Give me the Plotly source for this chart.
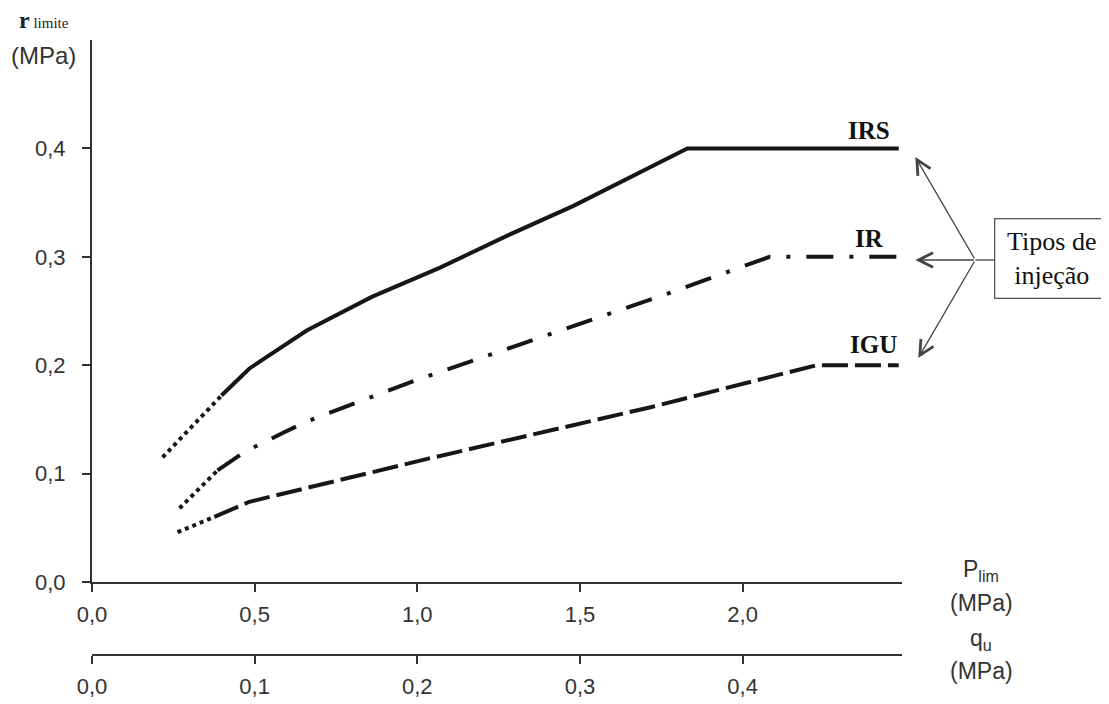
import plotly.graph_objects as go

# ---- data ----
irs_dot_x = [0.217, 0.398]
irs_dot_y = [0.115, 0.172]
irs_x = [0.398, 0.484, 0.66, 0.86, 1.07, 1.28, 1.48, 1.68, 1.83, 2.48]
irs_y = [0.172, 0.197, 0.232, 0.263, 0.290, 0.320, 0.347, 0.377, 0.400, 0.400]

ir_dot_x = [0.269, 0.386]
ir_dot_y = [0.068, 0.103]
ir_x = [0.386, 0.469, 0.583, 0.66, 0.976, 1.443, 1.76, 2.083, 2.48]
ir_y = [0.103, 0.120, 0.137, 0.148, 0.184, 0.232, 0.265, 0.300, 0.300]

igu_dot_x = [0.263, 0.376]
igu_dot_y = [0.046, 0.060]
igu_x = [0.376, 0.484, 1.037, 1.714, 2.227, 2.48]
igu_y = [0.060, 0.074, 0.114, 0.161, 0.200, 0.200]

series_labels = ["IRS", "IR", "IGU"]
p_ticks = [0.0, 0.5, 1.0, 1.5, 2.0]
q_ticks = [0.0, 0.1, 0.2, 0.3, 0.4]
r_ticks = [0.0, 0.1, 0.2, 0.3, 0.4]
p_max = 2.49
q_max = p_max / 5.0
r_max = 0.5

LINE = "#161616"
AXC = "#333333"
SANS = "Liberation Sans, Arial, sans-serif"
SERIF = "Liberation Serif, Times New Roman, serif"
LW = 4

fig = go.Figure()

def add(x, y, dash):
    fig.add_trace(go.Scatter(x=x, y=y, mode="lines", showlegend=False,
                             hoverinfo="skip",
                             line=dict(color=LINE, width=LW, dash=dash)))

add(irs_dot_x, irs_dot_y, "4px,4px")
add(irs_x, irs_y, "solid")
add(ir_dot_x, ir_dot_y, "4px,4px")
add(ir_x, ir_y, "27px,16px,4px,16px")
add(igu_dot_x, igu_dot_y, "4px,4px")
add(igu_x, igu_y, "26px,7px")

# invisible trace so the q_u axis is drawn
fig.add_trace(go.Scatter(x=[0], y=[0], xaxis="x2", yaxis="y", mode="markers",
                         marker=dict(opacity=0), showlegend=False, hoverinfo="skip"))

tickfont = dict(family=SANS, size=22, color=AXC)

# the page body adds an 8px margin, so the figure is made 8px smaller
fig.update_layout(
    width=1101, height=696, autosize=False,
    margin=dict(l=84, r=207, t=32, b=49),
    paper_bgcolor="white", plot_bgcolor="white",
    separators=",.",
    xaxis=dict(range=[0, p_max], tickvals=p_ticks, tickformat=".1f",
               showline=True, linewidth=2, linecolor=AXC,
               ticks="outside", ticklen=8, tickwidth=1.5, tickcolor=AXC,
               showgrid=False, zeroline=False, tickfont=tickfont,
               anchor="y", ticklabelstandoff=4, automargin=False),
    xaxis2=dict(range=[0, q_max], tickvals=q_ticks, tickformat=".1f",
                overlaying="x", anchor="free", position=0, side="bottom",
                showline=True, linewidth=2, linecolor=AXC,
                ticks="outside", ticklen=8, tickwidth=1.5, tickcolor=AXC,
                showgrid=False, zeroline=False, tickfont=tickfont,
                ticklabelstandoff=4, automargin=False),
    yaxis=dict(range=[0, r_max], domain=[0.1187, 1], tickvals=r_ticks,
               tickformat=".1f",
               showline=True, linewidth=2, linecolor=AXC,
               ticks="outside", ticklen=8, tickwidth=1.5, tickcolor=AXC,
               showgrid=False, zeroline=False, tickfont=tickfont,
               ticklabelstandoff=12, automargin=False),
)

ann = []
# series labels (data coordinates)
lab_font = dict(family=SERIF, size=25, color="#111111")
for txt, lx, ly in zip(series_labels, [2.458, 2.442, 2.482], [0.4166, 0.317, 0.219]):
    ann.append(dict(text="<b>%s</b>" % txt, x=lx, y=ly, xref="x", yref="y",
                    xanchor="right", yanchor="middle", showarrow=False, font=lab_font))

# axis titles
ann.append(dict(text="<span style='font-size:24px'><b>r</b></span> limite",
                x=-0.092, y=1.033, xref="paper", yref="paper", xanchor="left",
                yanchor="middle", showarrow=False,
                font=dict(family=SERIF, size=15, color="#222222")))
ann.append(dict(text="(MPa)", x=-0.102, y=0.9756, xref="paper", yref="paper",
                xanchor="left", yanchor="middle", showarrow=False,
                font=dict(family=SANS, size=24, color=AXC)))
side_font = dict(family=SANS, size=23, color=AXC)
for txt, yy in [("P<sub>lim</sub>", 0.137), ("(MPa)", 0.0846),
                ("q<sub>u</sub>", 0.026), ("(MPa)", -0.026)]:
    ann.append(dict(text=txt, x=1.098, y=yy, xref="paper", yref="paper",
                    xanchor="center", yanchor="middle", showarrow=False, font=side_font))

# arrows to the curves
tipx = [1.0164, 1.0164, 1.0201]
tipy = [0.8098, 0.6423, 0.4829]
offs = [(60, 103), (60, 0), (57, -98)]
for tx, ty, (ox, oy) in zip(tipx, tipy, offs):
    ann.append(dict(x=tx, y=ty, xref="paper", yref="paper", ax=ox, ay=oy,
                    text="", showarrow=True, arrowhead=5, arrowsize=2.2,
                    arrowwidth=1.3, arrowcolor="#444444"))

# boxed label
ann.append(dict(text="Tipos de<br>injeção", x=1.185, y=0.644, xref="paper", yref="paper",
                xanchor="center", yanchor="middle", showarrow=False,
                font=dict(family=SERIF, size=26, color="#111111"),
                bordercolor="#555555", borderwidth=1.3, borderpad=4,
                bgcolor="white", width=105, height=70))
fig.update_layout(annotations=ann)

fig.add_shape(type="line", xref="paper", yref="paper",
              x0=1.0906, x1=1.1153, y0=0.6423, y1=0.6423,
              line=dict(color="#444444", width=1.3))

fig.write_html("out.html")
